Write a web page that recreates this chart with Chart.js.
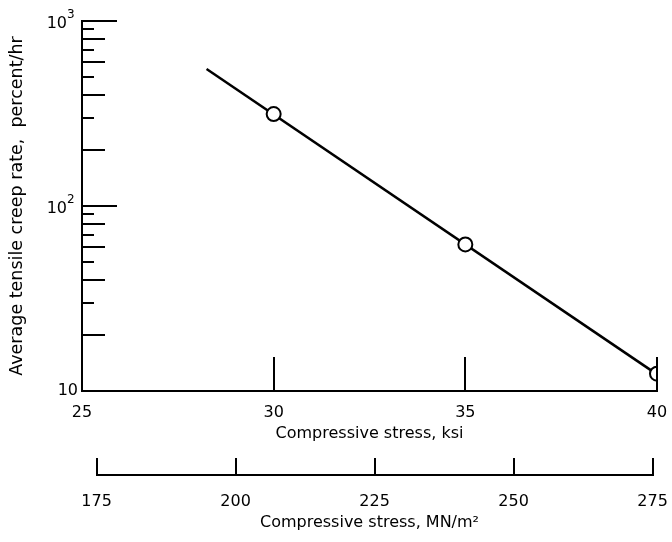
<!DOCTYPE html>
<html>
<head>
<meta charset="utf-8">
<script src="https://cdn.jsdelivr.net/npm/chart.js@4.4.1/dist/chart.umd.min.js"></script>
<style>
  html, body { margin: 0; padding: 0; background: #fff; }
</style>
</head>
<body>
<canvas id="creepChart" width="672" height="542"></canvas>
<script>
const ctx = document.getElementById('creepChart');

// Measured creep rates at each compressive stress
const stressKsi = [30, 35, 40];
const creepRate = [314, 62, 12.4];

// Faired line drawn through the data
const fitKsi = [28.25, 40];
const fitRate = [550, 12.3];

// Axis ticks
const ksiTicks = [25, 30, 35, 40];
const mnTicks = [175, 200, 225, 250, 275];
const rateTicks = [10, 100, 1000];
const rateExponents = ['', '2', '3'];

const MN_PER_KSI = 6.895;
const FONT = "'DejaVu Sans', sans-serif";

const toPoints = (xs, ys) => xs.map((x, i) => ({ x: x, y: ys[i] }));

// short tick marks drawn on the inside of the axes, plus the power-of-ten labels
const axisMarks = {
  id: 'axisMarks',
  afterDraw(chart) {
    const { ctx, scales: { x, y, x2 } } = chart;
    const left = y.right;
    const bottom = x.top;
    ctx.save();
    ctx.strokeStyle = '#000';
    ctx.lineWidth = 2;
    ctx.beginPath();

    // log cycle ticks, long on even multiples
    [10, 100].forEach(decade => {
      for (let m = 2; m <= 9; m++) {
        const py = Math.round(y.getPixelForValue(m * decade));
        const len = m % 2 === 0 ? 23 : 12;
        ctx.moveTo(left, py);
        ctx.lineTo(left + len, py);
      }
    });
    rateTicks.slice(1).forEach(v => {
      const py = Math.round(y.getPixelForValue(v));
      ctx.moveTo(left, py);
      ctx.lineTo(left + 35, py);
    });

    // ksi ticks rise from the axis
    ksiTicks.slice(1).forEach(v => {
      const px = Math.round(x.getPixelForValue(v));
      ctx.moveTo(px, bottom);
      ctx.lineTo(px, bottom - 34);
    });

    // MN/m2 scale line and ticks
    const top2 = Math.round(x2.top);
    ctx.moveTo(x2.getPixelForValue(mnTicks[0]), top2);
    ctx.lineTo(x2.getPixelForValue(mnTicks[mnTicks.length - 1]), top2);
    mnTicks.forEach(v => {
      const px = Math.round(x2.getPixelForValue(v));
      ctx.moveTo(px, top2 + 1);
      ctx.lineTo(px, top2 - 17);
    });
    ctx.stroke();

    // rate labels: 10, 10^2, 10^3
    ctx.fillStyle = '#000';
    ctx.textBaseline = 'middle';
    rateTicks.forEach((v, i) => {
      const py = y.getPixelForValue(v);
      const exp = rateExponents[i];
      ctx.font = '16px ' + FONT;
      ctx.textAlign = 'right';
      if (!exp) {
        ctx.fillText('10', left - 4, py);
        return;
      }
      ctx.fillText('10', left - 15, py + 3);
      ctx.font = '12px ' + FONT;
      ctx.textAlign = 'left';
      ctx.fillText(exp, left - 15, py - 6);
    });
    ctx.restore();
  }
};

const creepChart = new Chart(ctx, {
  type: 'scatter',
  data: {
    datasets: [
      {
        label: 'Measured',
        data: toPoints(stressKsi, creepRate),
        showLine: false,
        pointRadius: 7,
        pointBackgroundColor: '#fff',
        pointBorderColor: '#000',
        pointBorderWidth: 2
      },
      {
        label: 'Fit',
        data: toPoints(fitKsi, fitRate),
        showLine: true,
        borderColor: '#000',
        borderWidth: 2.5,
        pointRadius: 0
      }
    ]
  },
  options: {
    responsive: false,
    animation: false,
    layout: { padding: { top: 21, right: 15, bottom: 0, left: 0 } },
    plugins: {
      legend: { display: false },
      tooltip: { enabled: false }
    },
    scales: {
      x: {
        type: 'linear',
        position: 'bottom',
        weight: 0,
        min: 25,
        max: 40,
        afterBuildTicks: scale => { scale.ticks = ksiTicks.map(v => ({ value: v })); },
        afterFit: scale => {
          scale.height = 84;
          scale.paddingLeft = 0;
          scale.paddingRight = 0;
        },
        grid: { display: false },
        border: { display: true, color: '#000', width: 2 },
        ticks: {
          padding: 4,
          color: '#000',
          font: { family: FONT, size: 16 }
        },
        title: {
          display: true,
          text: 'Compressive stress, ksi',
          color: '#000',
          font: { family: FONT, size: 16 },
          padding: { top: 0, bottom: 32 }
        }
      },
      x2: {
        type: 'linear',
        position: 'bottom',
        weight: 1,
        min: 25 * MN_PER_KSI,
        max: 40 * MN_PER_KSI,
        afterBuildTicks: scale => { scale.ticks = mnTicks.map(v => ({ value: v })); },
        afterFit: scale => {
          scale.height = 67;
          scale.paddingLeft = 0;
          scale.paddingRight = 0;
        },
        grid: { display: false },
        border: { display: false },
        ticks: {
          padding: 9,
          color: '#000',
          font: { family: FONT, size: 16 }
        },
        title: {
          display: true,
          text: 'Compressive stress, MN/m²',
          color: '#000',
          font: { family: FONT, size: 16 },
          padding: { top: 0, bottom: 10 }
        }
      },
      y: {
        type: 'logarithmic',
        position: 'left',
        min: 10,
        max: 1000,
        afterBuildTicks: scale => { scale.ticks = rateTicks.map(v => ({ value: v })); },
        afterFit: scale => {
          scale.width = 82;
          scale.paddingTop = 0;
          scale.paddingBottom = 0;
        },
        grid: { display: false },
        border: { display: true, color: '#000', width: 2 },
        ticks: { display: false },
        title: {
          display: true,
          text: 'Average tensile creep rate,  percent/hr',
          color: '#000',
          font: { family: FONT, size: 17.5 },
          padding: { top: 7, bottom: 0 }
        }
      }
    }
  },
  plugins: [axisMarks]
});
</script>
</body>
</html>
